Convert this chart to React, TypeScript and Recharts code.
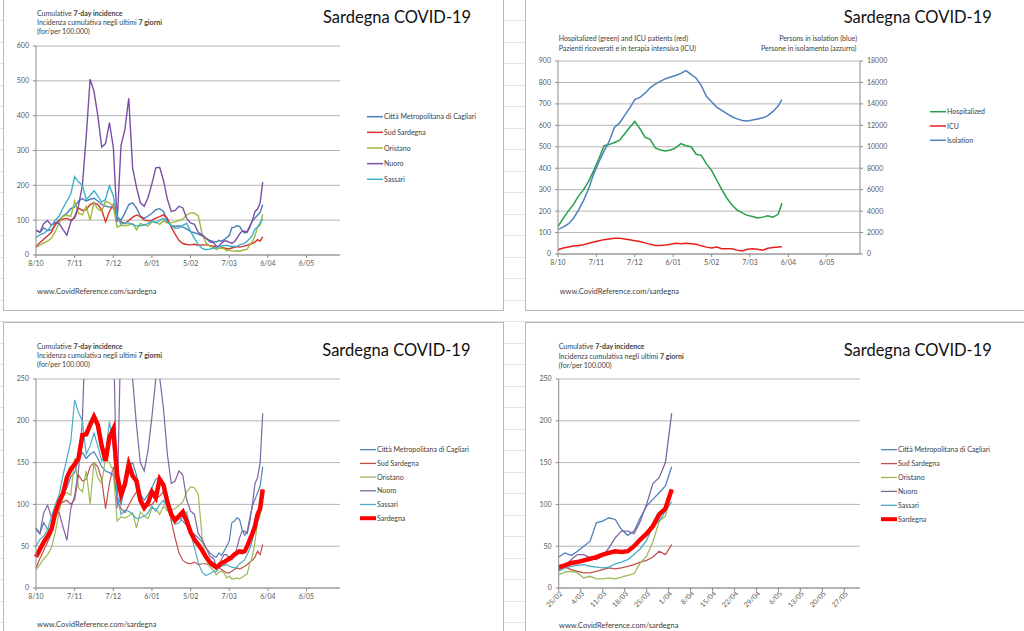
import React from 'react';
import { LineChart, Line, XAxis, YAxis, CartesianGrid } from 'recharts';

// days counted from 8 Oct 2020
const days = [
  0, 3, 6, 9, 12, 15, 18, 21, 24, 27, 30, 33, 36, 39, 42, 45, 48, 51, 54, 57,
  60, 63, 66, 69, 72, 75, 78, 81, 84, 87, 90, 93, 96, 99, 102, 105, 108, 111, 114, 117,
  120, 123, 126, 129, 132, 135, 138,
  140, 142, 144, 146, 148, 150, 152, 154, 156, 158, 160, 162, 164, 166, 168, 170, 172, 174, 176,
];

const cagliari = [
  72, 65, 78, 70, 72, 85, 100, 112, 120, 133, 138, 155, 162, 155, 160, 163, 155, 145, 140, 138,
  135, 110, 100, 120, 145, 150, 135, 112, 105, 112, 120, 130, 133, 125, 98, 85, 82, 84, 80, 75,
  67, 64, 60, 55, 48, 42, 38,
  37, 42, 39, 44, 50, 56, 78, 80, 84, 82, 70, 63, 68, 84, 98, 106, 114, 122, 145,
];
const sudSardegna = [
  24, 35, 45, 55, 65, 90, 100, 103, 105, 100, 106, 135, 128, 130, 145, 150, 145, 130, 95, 125,
  145, 105, 95, 90, 99, 108, 115, 110, 100, 98, 100, 106, 110, 115, 105, 80, 60, 42, 33, 30,
  29, 31, 28, 29, 29, 27, 25,
  22, 25, 22, 20, 18, 18, 20, 22, 24, 23, 24, 26, 28, 31, 33, 37, 44, 40, 52,
];
const oristano = [
  22, 28, 35, 40, 48, 67, 92, 112, 114, 111, 155, 120, 115, 140, 100, 150, 132, 125, 155, 150,
  140, 80, 85, 84, 86, 90, 72, 91, 86, 83, 95, 95, 88, 98, 92, 93, 95, 99, 103, 115,
  121, 120, 112, 60, 35, 25, 21,
  16, 19, 20, 18, 12, 14, 11, 11, 12, 11, 13, 15, 17, 30, 38, 55, 80, 86, 117,
];
const nuoro = [
  70, 65, 90, 99, 85, 93, 90, 73, 57, 95, 110, 141, 200, 340, 505, 470, 400, 310, 320, 380,
  310, 95, 315, 360, 450, 250, 195, 150, 140, 165, 205, 250, 252, 214, 160, 125, 128, 140, 135, 105,
  92, 88, 65, 58, 48, 38, 35,
  25, 26, 34, 40, 40, 36, 34, 38, 48, 60, 68, 68, 65, 80, 100, 125, 132, 150, 209,
];
const sassari = [
  50, 58, 62, 70, 85, 100, 112, 135, 155, 175, 225, 210, 200, 160, 170, 185, 170, 152, 160, 199,
  170, 110, 88, 93, 92, 88, 83, 84, 86, 90, 98, 92, 100, 105, 95, 84, 76, 78, 85, 91,
  68, 48, 30, 19, 15, 17, 20,
  20, 24, 26, 27, 28, 26, 25, 24, 25, 29, 31, 34, 40, 47, 57, 74, 80, 92, 103,
];
const sardegna = [
  37, 46, 55, 62, 70, 90, 103, 113, 132, 142, 148, 155, 183, 184, 195, 205, 195, 170, 152, 180,
  190, 135, 112, 124, 148, 134, 128, 105, 96, 102, 115, 108, 130, 123, 103, 88, 81, 86, 91, 80,
  67, 58, 52, 45, 37, 31, 27,
  25, 27, 30, 31, 33, 35, 37, 40, 42, 44, 43, 44, 50, 58, 65, 74, 88, 95, 118,
];

const hospDays = [
  0, 4, 8, 12, 16, 20, 24, 28, 32, 36, 40, 44, 48, 52, 56, 60, 64, 68, 72, 76, 80, 84, 88,
  92, 96, 100, 104, 108, 112, 116, 120, 124, 128, 132, 136, 140, 144, 148, 152, 156, 160, 164,
  168, 172, 175,
];
const hospitalized = [
  129, 165, 200, 230, 270, 300, 340, 390, 445, 505, 510, 520, 530, 560, 590, 618, 585, 545, 535,
  495, 485, 480, 485, 495, 515, 505, 500, 465, 460, 420, 390, 345, 300, 260, 228, 205, 192, 180,
  175, 168, 172, 178, 172, 185, 237,
];
const icu = [
  20, 28, 33, 37, 40, 43, 50, 56, 62, 67, 70, 73, 74, 70, 66, 62, 58, 52, 45, 40, 40, 42, 45,
  50, 48, 50, 48, 45, 38, 32, 28, 33, 25, 24, 24, 18, 14, 22, 25, 22, 18, 27, 30, 33, 34,
];
const isolation = [
  2300, 2500, 2800, 3300, 4100, 5000, 6100, 7500, 8600, 9600, 10500, 11800, 12200, 12900, 13600,
  14400, 14600, 15000, 15500, 15850, 16100, 16350, 16500, 16650, 16850, 17100, 16750, 16400,
  15700, 14700, 14200, 13700, 13400, 13100, 12800, 12600, 12450, 12400, 12500, 12600, 12700,
  12900, 13300, 13800, 14400,
];

const monthTicks = [0, 30, 60, 90, 120, 150, 180, 210];
const monthLabels = ['8/10', '7/11', '7/12', '6/01', '5/02', '7/03', '6/04', '6/05'];
const weekTicks = [140, 147, 154, 161, 168, 175, 182, 189, 196, 203, 210, 217, 224, 231];
const weekLabels = ['25/02', '4/03', '11/03', '18/03', '25/03', '1/04', '8/04', '15/04', '22/04', '29/04', '6/05', '13/05', '20/05', '27/05'];

const incidence = days.map((day, i) => ({
  day,
  cagliari: cagliari[i],
  sud: sudSardegna[i],
  oristano: oristano[i],
  nuoro: nuoro[i],
  sassari: sassari[i],
  sardegna: sardegna[i],
}));
const recent = incidence.filter((r) => r.day >= 140);
const hospital = hospDays.map((day, i) => ({
  day,
  hospitalized: hospitalized[i],
  icu: icu[i],
  isolation: isolation[i],
}));

const FONT = 'Lato, "Open Sans", sans-serif';
const TICK = { fontSize: 7, fill: '#595959', fontFamily: FONT };
const GRID = '#b4b4b4';
const AXIS = '#8c8c8c';
const TXT = '#404040';

const brightColors = { cagliari: '#4a7ebb', sud: '#d9302a', oristano: '#9bbb3b', nuoro: '#7b4fa8', sassari: '#3cb0c8' };
const softColors = { cagliari: '#4f81bd', sud: '#c0504d', oristano: '#9bbb59', nuoro: '#8064a2', sassari: '#4bacc6', sardegna: '#ff0000' };

const monthLabel = (v: number) => monthLabels[monthTicks.indexOf(v)] ?? '';

function SlantTick(props: any) {
  const { x, y, payload } = props;
  const label = weekLabels[weekTicks.indexOf(payload.value)] ?? '';
  return (
    <text
      x={0}
      y={0}
      transform={`translate(${x + 2},${y}) rotate(-45)`}
      textAnchor="end"
      dominantBaseline="central"
      fontSize={7}
      fill="#595959"
      fontFamily={FONT}
    >
      {label}
    </text>
  );
}

type Item = { name: string; color: string; width: number };

function Legend({ x, y, dy, items }: { x: number; y: number; dy: number; items: Item[] }) {
  return (
    <g>
      {items.map((it, i) => (
        <g key={it.name}>
          <line x1={x} x2={x + 16} y1={y + i * dy} y2={y + i * dy} stroke={it.color} strokeWidth={it.width} />
          <text x={x + 17} y={y + i * dy + 2.5} fontSize={7} fill={TXT} fontFamily={FONT}>
            {it.name}
          </text>
        </g>
      ))}
    </g>
  );
}

function Title({ x, y }: { x: number; y: number }) {
  return (
    <text x={x} y={y} fontSize={16.5} fill="#111" fontFamily={FONT}>
      Sardegna COVID-19
    </text>
  );
}

function IncidenceNote({ x, y }: { x: number; y: number }) {
  return (
    <g fontSize={7} fill={TXT} fontFamily={FONT}>
      <text x={x} y={y}>
        Cumulative <tspan fontWeight="bold">7-day incidence</tspan>
      </text>
      <text x={x} y={y + 9.4}>
        Incidenza cumulativa negli ultimi <tspan fontWeight="bold">7 giorni</tspan>
      </text>
      <text x={x} y={y + 18.8}>(for/per 100.000)</text>
    </g>
  );
}

function Footer({ x, y }: { x: number; y: number }) {
  return (
    <text x={x} y={y} fontSize={7.5} fill={TXT} fontFamily={FONT}>
      www.CovidReference.com/sardegna
    </text>
  );
}

function Panel({ left, top, width, height, children, overlay }: any) {
  return (
    <div style={{ position: 'absolute', left, top, width, height, background: '#fff' }}>
      <div style={{ position: 'absolute', left: 0, top: 0 }}>{children}</div>
      <svg width={width} height={height} style={{ position: 'absolute', left: 0, top: 0, pointerEvents: 'none' }}>
        {overlay}
      </svg>
      <div style={{ position: 'absolute', inset: 0, border: '1px solid #b8b8b8', pointerEvents: 'none' }} />
    </div>
  );
}

const districtItems = (c: any, w: number): Item[] => [
  { name: 'Città Metropolitana di Cagliari', color: c.cagliari, width: w },
  { name: 'Sud Sardegna', color: c.sud, width: w },
  { name: 'Oristano', color: c.oristano, width: w },
  { name: 'Nuoro', color: c.nuoro, width: w },
  { name: 'Sassari', color: c.sassari, width: w },
];

function districtLines(c: any, w: number) {
  return ['cagliari', 'sud', 'oristano', 'nuoro', 'sassari'].map((k) => (
    <Line key={k} dataKey={k} stroke={c[k]} strokeWidth={w} dot={false} isAnimationActive={false} />
  ));
}

export default function App() {
  return (
    <div
      style={{
        position: 'absolute',
        left: 0,
        top: 0,
        width: 1024,
        height: 631,
        overflow: 'hidden',
        background:
          'repeating-linear-gradient(to bottom, #fff 0px, #fff 20.5px, #e3e3e3 20.5px, #e3e3e3 21.5px)',
      }}
    >
      {/* top left: incidence by province */}
      <Panel
        left={3}
        top={-1}
        width={501}
        height={312}
        overlay={
          <>
            <Title x={320} y={23.5} />
            <IncidenceNote x={34} y={16.5} />
            <Legend x={364} y={117.7} dy={15.65} items={districtItems(brightColors, 1.5)} />
            <Footer x={34} y={295} />
          </>
        }
      >
        <LineChart width={501} height={312} data={incidence} margin={{ top: 47, right: 164, bottom: 36, left: 0 }}>
          <CartesianGrid vertical={false} stroke={GRID} />
          <XAxis dataKey="day" type="number" domain={[0, 236]} ticks={monthTicks} interval={0} tickFormatter={monthLabel} stroke={AXIS} tick={TICK} tickSize={3} tickMargin={3} height={20} />
          <YAxis type="number" domain={[0, 600]} ticks={[0, 100, 200, 300, 400, 500, 600]} interval={0} width={33} stroke={AXIS} tick={TICK} tickSize={3} tickMargin={4} />
          {districtLines(brightColors, 1.4)}
        </LineChart>
      </Panel>

      {/* top right: hospital and isolation */}
      <Panel
        left={525}
        top={-1}
        width={500}
        height={312}
        overlay={
          <>
            <Title x={318.7} y={23.5} />
            <g fontSize={7} fill={TXT} fontFamily={FONT}>
              <text x={33.7} y={42.3}>Hospitalized (green) and ICU patients (red)</text>
              <text x={33.7} y={51.6}>Pazienti ricoverati e in terapia intensiva (ICU)</text>
              <text x={332} y={42.3} textAnchor="end">Persons in isolation (blue)</text>
              <text x={331.5} y={51.6} textAnchor="end">Persone in isolamento (azzurro)</text>
            </g>
            <Legend
              x={405}
              y={112.7}
              dy={14.3}
              items={[
                { name: 'Hospitalized', color: '#23a048', width: 1.5 },
                { name: 'ICU', color: '#e8201c', width: 1.5 },
                { name: 'Isolation', color: '#4f7fbd', width: 1.5 },
              ]}
            />
            <Footer x={34.7} y={294.5} />
          </>
        }
      >
        <LineChart width={500} height={312} data={hospital} margin={{ top: 62, right: 125, bottom: 37, left: 0 }}>
          <CartesianGrid vertical={false} stroke={GRID} yAxisId="left" />
          <XAxis dataKey="day" type="number" domain={[0, 236]} ticks={monthTicks} interval={0} tickFormatter={monthLabel} stroke={AXIS} tick={TICK} tickSize={3} tickMargin={3} height={20} />
          <YAxis yAxisId="left" type="number" domain={[0, 900]} ticks={[0, 100, 200, 300, 400, 500, 600, 700, 800, 900]} interval={0} width={33} stroke={AXIS} tick={TICK} tickSize={3} tickMargin={4} />
          <YAxis yAxisId="right" orientation="right" type="number" domain={[0, 18000]} ticks={[0, 2000, 4000, 6000, 8000, 10000, 12000, 14000, 16000, 18000]} interval={0} width={40} stroke={AXIS} tick={TICK} tickSize={3} tickMargin={4} />
          <Line yAxisId="left" dataKey="hospitalized" stroke="#23a048" strokeWidth={1.5} dot={false} isAnimationActive={false} />
          <Line yAxisId="left" dataKey="icu" stroke="#e8201c" strokeWidth={1.5} dot={false} isAnimationActive={false} />
          <Line yAxisId="right" dataKey="isolation" stroke="#4f7fbd" strokeWidth={1.5} dot={false} isAnimationActive={false} />
        </LineChart>
      </Panel>

      {/* bottom left: incidence with Sardegna, capped at 250 */}
      <Panel
        left={3}
        top={322}
        width={501}
        height={312}
        overlay={
          <>
            <Title x={319.3} y={33.7} />
            <IncidenceNote x={34} y={26.6} />
            <Legend
              x={357}
              y={127.7}
              dy={13.7}
              items={[...districtItems(softColors, 1.3), { name: 'Sardegna', color: softColors.sardegna, width: 4 }]}
            />
            <Footer x={34} y={304.5} />
          </>
        }
      >
        <LineChart width={501} height={312} data={incidence} margin={{ top: 57, right: 164, bottom: 26, left: 0 }}>
          <CartesianGrid vertical={false} stroke={GRID} />
          <XAxis dataKey="day" type="number" domain={[0, 236]} ticks={monthTicks} interval={0} tickFormatter={monthLabel} stroke={AXIS} tick={TICK} tickSize={3} tickMargin={3} height={20} />
          <YAxis type="number" domain={[0, 250]} allowDataOverflow ticks={[0, 50, 100, 150, 200, 250]} interval={0} width={33} stroke={AXIS} tick={TICK} tickSize={3} tickMargin={4} />
          {districtLines(softColors, 1.2)}
          <Line dataKey="sardegna" stroke={softColors.sardegna} strokeWidth={4.5} dot={false} isAnimationActive={false} />
        </LineChart>
      </Panel>

      {/* bottom right: last weeks */}
      <Panel
        left={525}
        top={322}
        width={500}
        height={312}
        overlay={
          <>
            <Title x={318.7} y={33.7} />
            <IncidenceNote x={33.7} y={27.3} />
            <Legend
              x={356}
              y={127.7}
              dy={13.9}
              items={[...districtItems(softColors, 1.3), { name: 'Sardegna', color: softColors.sardegna, width: 4 }]}
            />
            <Footer x={34} y={305.6} />
          </>
        }
      >
        <LineChart width={500} height={312} data={recent} margin={{ top: 57, right: 165, bottom: 16, left: 0 }}>
          <CartesianGrid vertical={false} stroke={GRID} />
          <XAxis dataKey="day" type="number" domain={[140, 236]} ticks={weekTicks} interval={0} tick={<SlantTick />} stroke={AXIS} tickSize={3} tickMargin={1} height={30} />
          <YAxis type="number" domain={[0, 250]} ticks={[0, 50, 100, 150, 200, 250]} interval={0} width={33.7} stroke={AXIS} tick={TICK} tickSize={3} tickMargin={4} />
          {districtLines(softColors, 1.3)}
          <Line dataKey="sardegna" stroke={softColors.sardegna} strokeWidth={4.5} dot={false} isAnimationActive={false} />
        </LineChart>
      </Panel>
    </div>
  );
}
